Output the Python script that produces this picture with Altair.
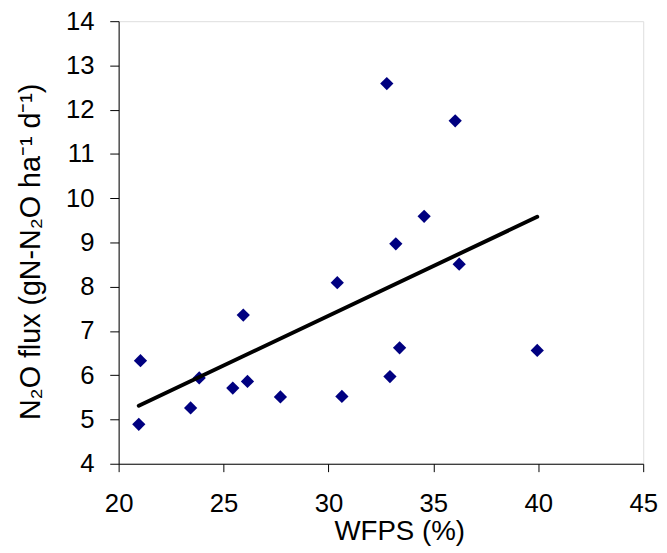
import altair as alt
import pandas as pd

# Scatter data
wfps = [21.04, 20.96, 23.43, 23.84, 25.44, 25.94, 26.14, 27.71, 30.42,
        30.64, 32.93, 33.39, 39.95, 36.23, 32.78, 36.04, 34.56, 33.21]
flux = [6.33, 4.89, 5.26, 5.94, 5.71, 7.36, 5.86, 5.51, 8.09,
        5.52, 5.97, 6.62, 6.56, 8.51, 12.59, 11.75, 9.59, 8.97]

# Trend line end points
trend_x = [20.96, 39.95]
trend_y = [5.31, 9.58]

x_ticks = [20, 25, 30, 35, 40, 45]
y_ticks = [4, 5, 6, 7, 8, 9, 10, 11, 12, 13, 14]

pts = pd.DataFrame({"wfps": wfps, "flux": flux})
trend = pd.DataFrame({"wfps": trend_x, "flux": trend_y})

FONT = "Liberation Sans"

x_enc = alt.X(
    "wfps:Q",
    scale=alt.Scale(domain=[20, 45], nice=False, zero=False),
    axis=alt.Axis(
        title="WFPS (%)", values=x_ticks, grid=False,
        domainColor="#000000", domainWidth=1, tickColor="#000000",
        tickSize=8, labelFontSize=26, labelPadding=19, labelColor="#000000",
        labelFont=FONT, titleFont=FONT, titleFontSize=28, titleFontWeight="normal",
        titleColor="#000000", titleBaseline="alphabetic", titleX=284, titleY=77,
        titleAlign="center", labelFlush=False,
    ),
)
y_enc = alt.Y(
    "flux:Q",
    scale=alt.Scale(domain=[4, 14], nice=False, zero=False),
    axis=alt.Axis(
        title="N₂O flux (gN-N₂O ha⁻¹ d⁻¹)", values=y_ticks, grid=False,
        domainColor="#000000", domainWidth=1, tickColor="#000000",
        tickSize=9, labelFontSize=26, labelPadding=16, labelColor="#000000",
        labelFont=FONT, titleFont=FONT, titleFontSize=29, titleFontWeight="normal",
        titleColor="#000000", titleBaseline="alphabetic", titleX=-80, titleY=233,
        titleAlign="center", titleAngle=270, labelFlush=False,
    ),
)

points = alt.Chart(pts).mark_point(
    shape="diamond", filled=True, size=180, color="#000080", opacity=1
).encode(x=x_enc, y=y_enc)

line = alt.Chart(trend).mark_line(
    color="#000000", strokeWidth=4, strokeCap="round"
).encode(x="wfps:Q", y="flux:Q")

chart = (
    alt.layer(points, line)
    .properties(
        width=531, height=448,
        autosize=alt.AutoSizeParams(type="none"),
        padding={"left": 112, "top": 10, "right": 16, "bottom": 87},
    )
    .configure_view(stroke=None)
    .configure(background="#ffffff")
)

chart.save("out.html", embed_options={"renderer": "svg", "actions": False})
